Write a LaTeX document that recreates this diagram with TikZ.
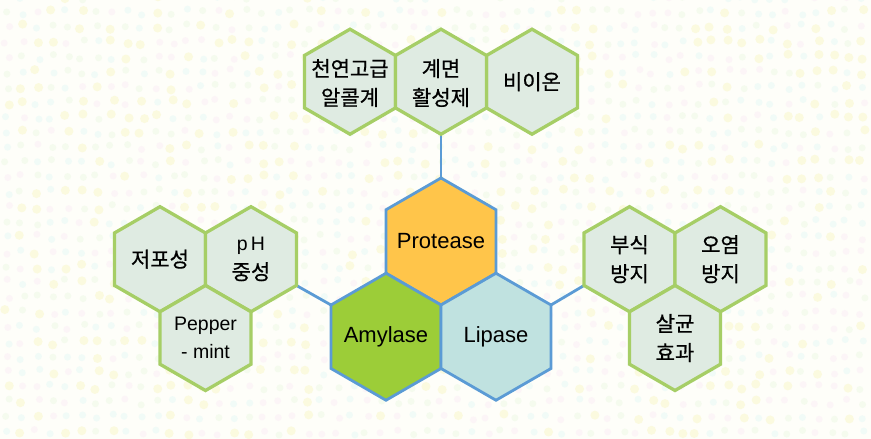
\documentclass[tikz,border=0pt]{standalone}
\usepackage{fontspec}
\setmainfont{Liberation Sans}
\newfontfamily\kr[FakeBold=0.6]{Noto Sans CJK KR}
\usetikzlibrary{calc}
\definecolor{bgc}{HTML}{FEFEF9}
\definecolor{smallfill}{HTML}{DFEBE2}
\definecolor{smallline}{HTML}{A6CE66}
\definecolor{bigline}{HTML}{5B9BD5}
\definecolor{protfill}{HTML}{FFC54A}
\definecolor{amyfill}{HTML}{9CCD38}
\definecolor{lipfill}{HTML}{C0E2E0}
\definecolor{dotA}{HTML}{F6F3B0}
\definecolor{dotB}{HTML}{B8EEF2}
\definecolor{dotC}{HTML}{F5C8EC}
\definecolor{dotD}{HTML}{CDEFC0}
\tikzset{
  smallhex/.style={draw=smallline, fill=smallfill, line width=3.3pt, line join=miter},
  bighex/.style={draw=bigline, line width=2.8pt, line join=miter},
  link/.style={draw=bigline, line width=2.8pt},
  krtext/.style={font=\kr\fontsize{21}{29}\selectfont, align=center, text=black},
  entext/.style={font=\fontsize{19.5}{28}\selectfont, align=center, text=black},
  bigtext/.style={font=\fontsize{22}{26}\selectfont, align=center, text=black}
}
\newcommand\hexagon[4]{% style, x, y, R
  \draw[#1] (#2,#3) +(90:#4) -- +(150:#4) -- +(210:#4) -- +(270:#4) -- +(330:#4) -- +(30:#4) -- cycle;}
\begin{document}
\begin{tikzpicture}[x=1pt,y=1pt]
\useasboundingbox (0,0) rectangle (871,439);
\fill[bgc] (0,0) rectangle (871,439);
% faint confetti background
\pgfmathsetseed{7}
\foreach \i in {0,...,57}{
  \foreach \j in {0,...,29}{
    \pgfmathsetmacro{\px}{\i*15+7+rand*3}
    \pgfmathsetmacro{\py}{\j*15+7+rand*3}
    \pgfmathtruncatemacro{\c}{int(random(1,4))}
    \ifcase\c\or
      \fill[dotA, opacity=0.35] (\px,\py) circle (4.5);
    \or
      \fill[dotB, opacity=0.18] (\px,\py) circle (3.5);
    \or
      \fill[dotC, opacity=0.15] (\px,\py) circle (3.5);
    \or
      \fill[dotD, opacity=0.18] (\px,\py) circle (3.5);
    \fi
  }
}
% connector end points
\coordinate (t2b) at (441,304.8);
\coordinate (prt) at (441,261);
\coordinate (l2v) at (296.5,153.5);
\coordinate (amv) at (331,134);
\coordinate (lpv) at (551,134);
\coordinate (r1v) at (584,153.5);
\draw[link] (t2b) -- (prt);
\draw[link] (l2v) -- (amv);
\draw[link] (lpv) -- (r1v);
% central hexagons
\hexagon{bighex, fill=protfill}{441}{197.5}{63.5}
\hexagon{bighex, fill=amyfill}{386}{102.25}{63.5}
\hexagon{bighex, fill=lipfill}{496}{102.25}{63.5}
\node[bigtext] (prot) at (441,197.5) {Protease};
\node[bigtext] (amy) at (386,102.25) {Amylase};
\node[bigtext] (lip) at (496,102.25) {Lipase};
% top cluster
\hexagon{smallhex}{350}{357.3}{52.5}
\hexagon{smallhex}{532}{357.3}{52.5}
\hexagon{smallhex}{441}{357.3}{52.5}
\node[krtext] (t1) at (350,356) {천연고급\\알콜계};
\node[krtext] (t2) at (441,356) {계면\\활성제};
\node[krtext] (t3) at (532,357.3) {비이온};
% left cluster
\hexagon{smallhex}{160}{179.8}{52.5}
\hexagon{smallhex}{251}{179.8}{52.5}
\hexagon{smallhex}{205.5}{101}{52.5}
\node[krtext] (l1) at (160,179.8) {저포성};
\node[krtext] (l2) at (251,179.8) {{\rmfamily\fontsize{19.5}{28}\selectfont p\,H}\\중성};
\node[entext] (l3) at (205.5,101) {Pepper\\- mint};
% right cluster
\hexagon{smallhex}{629.5}{179.8}{52.5}
\hexagon{smallhex}{720.5}{179.8}{52.5}
\hexagon{smallhex}{675}{101}{52.5}
\node[krtext] (r1) at (629.5,179.8) {부식\\방지};
\node[krtext] (r2) at (720.5,179.8) {오염\\방지};
\node[krtext] (r3) at (675,101) {살균\\효과};
\end{tikzpicture}
\end{document}
